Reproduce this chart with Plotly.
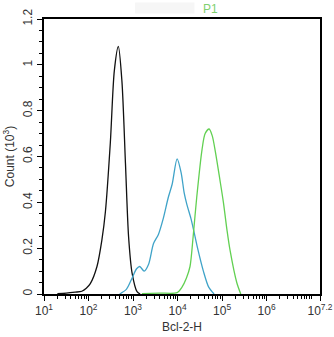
import numpy as np
import plotly.graph_objects as go

# Histogram overlays: log10(Bcl-2-H intensity) vs count (x10^3)
black_log = [1.30, 1.50, 1.70, 1.85, 1.95, 2.04, 2.19, 2.30, 2.38, 2.49, 2.58, 2.67, 2.75, 2.83, 2.90, 2.98, 3.09, 3.16]
black_cnt = [0.002, 0.004, 0.008, 0.012, 0.025, 0.045, 0.12, 0.235, 0.36, 0.66, 0.975, 1.08, 0.93, 0.57, 0.25, 0.09, 0.01, 0.0]

cyan_log = [2.70, 2.85, 2.98, 3.08, 3.15, 3.25, 3.35, 3.46, 3.57, 3.68, 3.79, 3.88, 3.99, 4.08, 4.15, 4.21, 4.30, 4.36, 4.45, 4.58, 4.70, 4.82]
cyan_cnt = [0.0, 0.02, 0.07, 0.11, 0.12, 0.10, 0.13, 0.22, 0.26, 0.33, 0.42, 0.48, 0.59, 0.53, 0.44, 0.39, 0.33, 0.28, 0.20, 0.10, 0.03, 0.0]

green_log = [3.20, 3.60, 3.99, 4.10, 4.20, 4.28, 4.35, 4.43, 4.55, 4.62, 4.71, 4.78, 4.85, 4.95, 5.03, 5.11, 5.18, 5.33, 5.42]
green_cnt = [0.002, 0.004, 0.006, 0.03, 0.07, 0.12, 0.25, 0.42, 0.63, 0.70, 0.72, 0.69, 0.62, 0.50, 0.40, 0.28, 0.19, 0.05, 0.0]

x_tick_exp = [1, 2, 3, 4, 5, 6, 7.2]
x_tick_text = ["10<sup>1</sup>", "10<sup>2</sup>", "10<sup>3</sup>", "10<sup>4</sup>",
               "10<sup>5</sup>", "10<sup>6</sup>", "10<sup>7.2</sup>"]
y_tick_vals = [0, 0.2, 0.4, 0.6, 0.8, 1, 1.2]
y_tick_text = ["0", "0.2", "0.4", "0.6", "0.8", "1", "1.2"]

minor_x = [k * 10 ** n for n in range(1, 7) for k in range(2, 10)] + [1e7]
minor_x = [v for v in minor_x if v <= 10 ** 7.2]

fig = go.Figure()
for lg, cnt, col in [(black_log, black_cnt, "#111111"),
                     (cyan_log, cyan_cnt, "#3fa3c8"),
                     (green_log, green_cnt, "#62d052")]:
    fig.add_trace(go.Scatter(x=[10 ** v for v in lg], y=cnt, mode="lines",
                             line=dict(color=col, width=1.3, shape="spline", smoothing=0.8),
                             showlegend=False, hoverinfo="skip"))

fig.add_annotation(text="P1", x=0.605, y=1.0, xref="paper", yref="paper",
                   xanchor="center", yanchor="bottom", yshift=1, showarrow=False,
                   font=dict(family="Liberation Sans, Arial", size=12, color="#80d070"))
fig.add_shape(type="rect", xref="paper", yref="paper", x0=0.33, x1=0.545, y0=1.02, y1=1.06,
              fillcolor="#f6f6f6", line=dict(width=0), layer="below")

tick_font = dict(family="Liberation Sans, Arial", size=12, color="#333333")
fig.update_xaxes(type="log", range=[1, 7.2], automargin=False,
                 tickvals=[10 ** e for e in x_tick_exp], ticktext=x_tick_text,
                 ticks="outside", ticklen=5, tickcolor="black", tickwidth=1,
                 minor=dict(tickvals=minor_x, ticks="outside", ticklen=3, tickcolor="black"),
                 showline=True, linecolor="black", linewidth=1.5, mirror=True,
                 showgrid=False, zeroline=False, tickfont=tick_font,
                 title=dict(text="Bcl-2-H", font=tick_font, standoff=5))
fig.update_yaxes(range=[0, 1.2], tickvals=y_tick_vals, ticktext=y_tick_text, automargin=False,
                 tickangle=-90, ticks="outside", ticklen=5, tickcolor="black",
                 minor=dict(dtick=0.05, ticks="outside", ticklen=3, tickcolor="black"),
                 showline=True, linecolor="black", linewidth=1.5, mirror=True,
                 showgrid=False, zeroline=False, tickfont=tick_font,
                 title=dict(text="Count (10<sup>3</sup>)", font=tick_font, standoff=4))
fig.update_layout(width=334, height=337, paper_bgcolor="white", plot_bgcolor="white",
                  margin=dict(l=44, r=14, t=19, b=43))
fig.write_html("out.html")
